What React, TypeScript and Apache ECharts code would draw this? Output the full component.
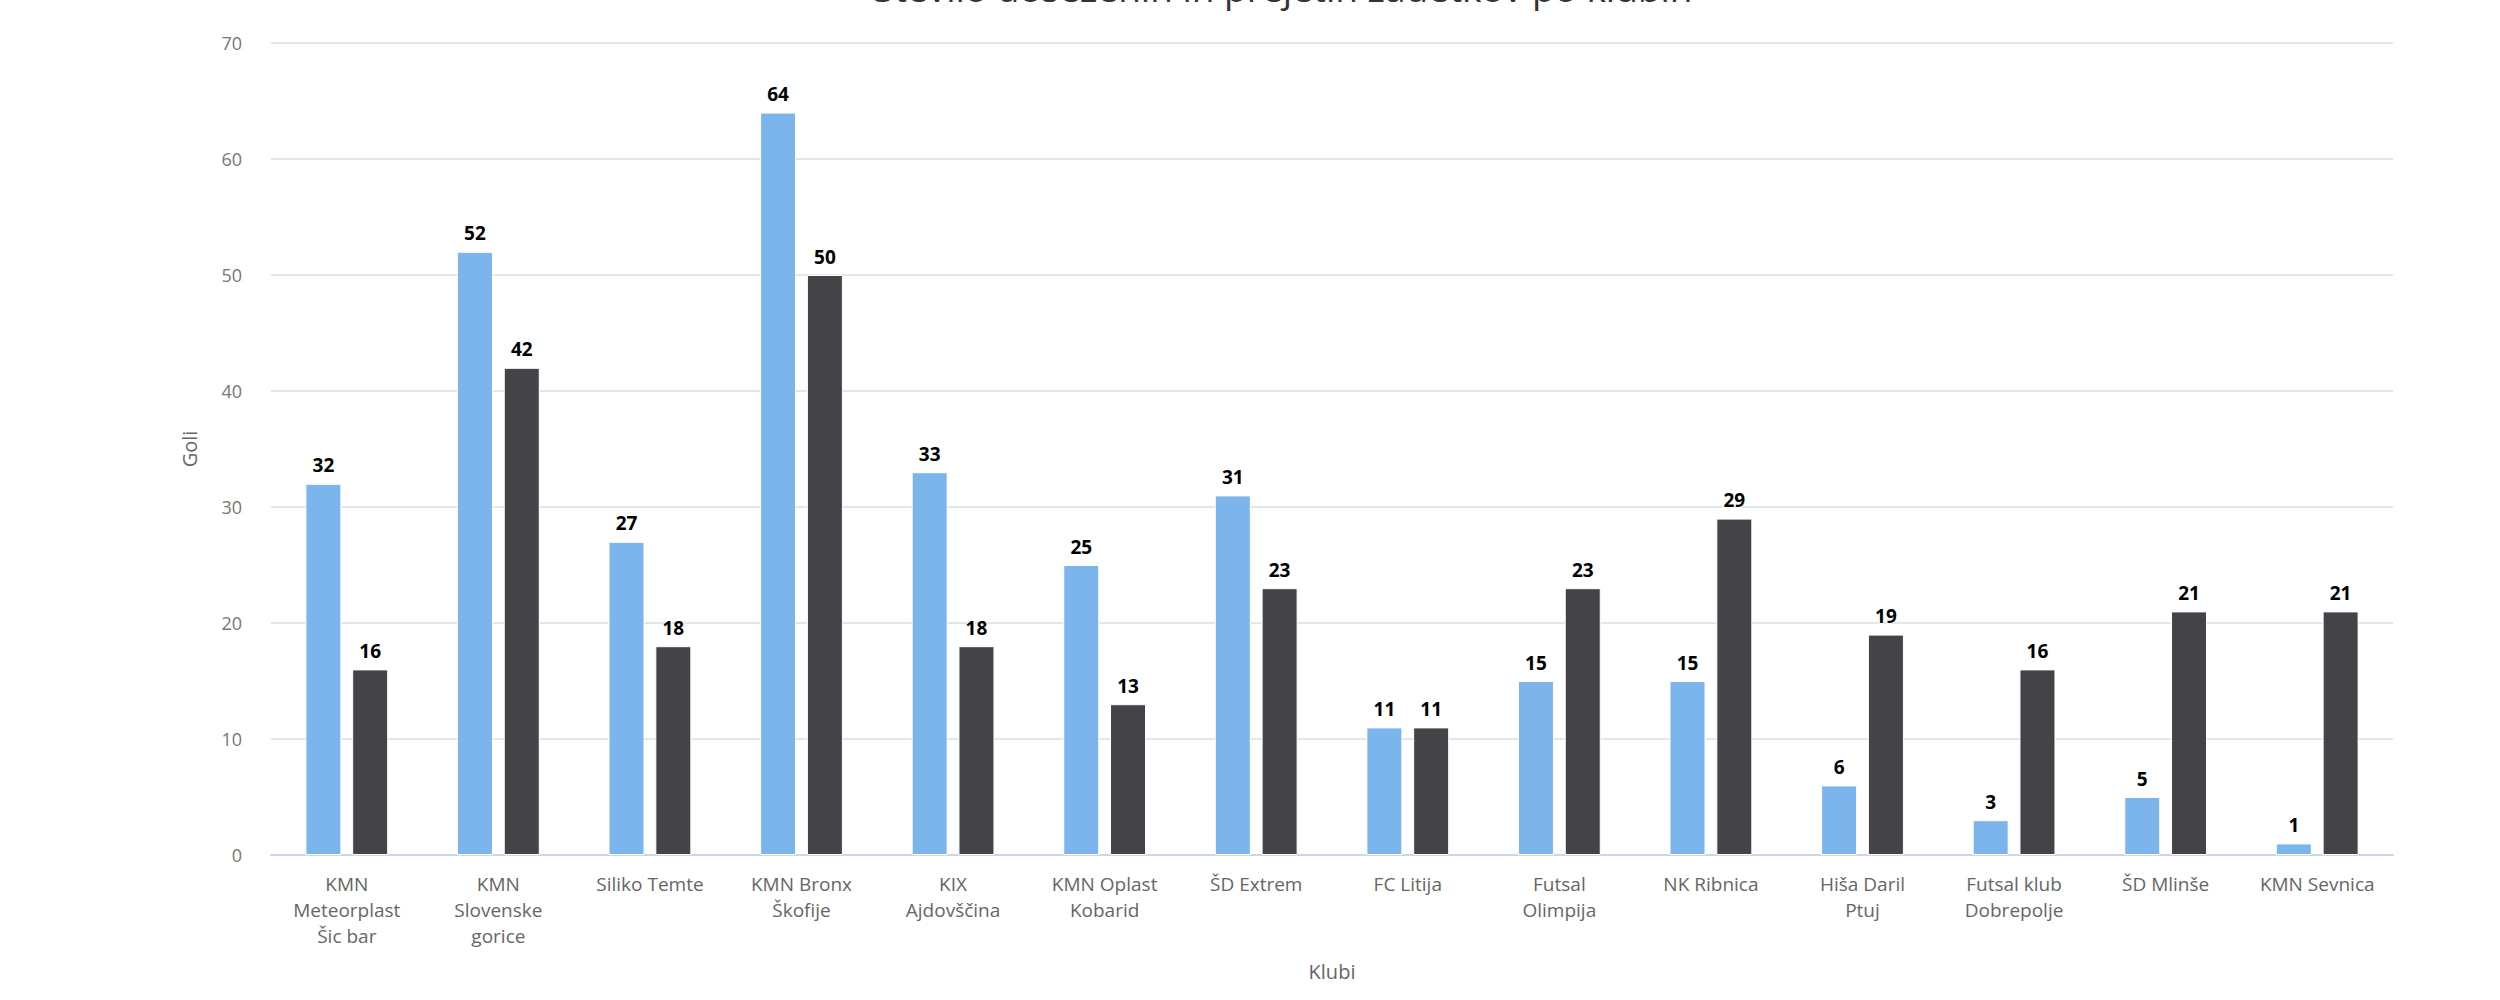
import React, { useEffect, useRef } from "react";
import * as echarts from "echarts";

const titleText = "Število doseženih in prejetih zadetkov po klubih";
const categories = [
  "KMN\nMeteorplast\nŠic bar",
  "KMN\nSlovenske\ngorice",
  "Siliko Temte",
  "KMN Bronx\nŠkofije",
  "KIX\nAjdovščina",
  "KMN Oplast\nKobarid",
  "ŠD Extrem",
  "FC Litija",
  "Futsal\nOlimpija",
  "NK Ribnica",
  "Hiša Daril\nPtuj",
  "Futsal klub\nDobrepolje",
  "ŠD Mlinše",
  "KMN Sevnica",
];
const scored = [32, 52, 27, 64, 33, 25, 31, 11, 15, 15, 6, 3, 5, 1];
const conceded = [16, 42, 18, 50, 18, 13, 23, 11, 23, 29, 19, 16, 21, 21];
const seriesNames = ["Doseženi zadetki", "Prejeti zadetki"];
const yAxisName = "Goli";
const xAxisName = "Klubi";

const FONT = "'Open Sans', 'DejaVu Sans', sans-serif";

export default function App() {
  const ref = useRef<HTMLDivElement>(null);
  useEffect(() => {
    document.body.style.margin = "0";
    const chart = echarts.init(ref.current!, null, { renderer: "svg" });
    const label = {
      show: true,
      position: "top",
      distance: 9,
      color: "#000",
      fontWeight: "bold",
      fontSize: 19,
      fontFamily: FONT,
      textBorderColor: "#fff",
      textBorderWidth: 2,
    };
    chart.setOption({
      animation: false,
      backgroundColor: "#fff",
      title: {
        text: titleText,
        left: 1278,
        top: -36,
        textAlign: "center",
        textStyle: { fontSize: 37, fontWeight: "normal", color: "#333", fontFamily: FONT },
      },
      grid: { left: 271, right: 107, top: 43, bottom: 145 },
      xAxis: {
        type: "category",
        data: categories,
        name: xAxisName,
        nameLocation: "middle",
        nameGap: 106,
        nameTextStyle: { fontSize: 20, color: "#666", fontFamily: FONT },
        axisLine: { lineStyle: { color: "#ccd6eb", width: 2 } },
        axisTick: { show: false },
        axisLabel: {
          interval: 0,
          margin: 16,
          fontSize: 19,
          lineHeight: 26,
          color: "#666",
          fontFamily: FONT,
        },
      },
      yAxis: {
        type: "value",
        min: 0,
        max: 70,
        interval: 10,
        name: yAxisName,
        nameLocation: "middle",
        nameGap: 72,
        nameRotate: 90,
        nameTextStyle: { fontSize: 20, color: "#666", fontFamily: FONT },
        axisLine: { show: false },
        axisTick: { show: false },
        axisLabel: { margin: 29, fontSize: 18, color: "#777", fontFamily: FONT },
        splitLine: { lineStyle: { color: "#e6e6e6", width: 2 } },
      },
      series: [
        {
          name: seriesNames[0],
          type: "bar",
          data: scored,
          barWidth: 36,
          barGap: "30%",
          itemStyle: { color: "#7cb5ec", borderColor: "#fff", borderWidth: 1 },
          label,
        },
        {
          name: seriesNames[1],
          type: "bar",
          data: conceded,
          barWidth: 36,
          barGap: "30%",
          itemStyle: { color: "#434348", borderColor: "#fff", borderWidth: 1 },
          label,
        },
      ],
    });
    return () => chart.dispose();
  }, []);
  return <div ref={ref} style={{ width: 2500, height: 1000 }} />;
}
